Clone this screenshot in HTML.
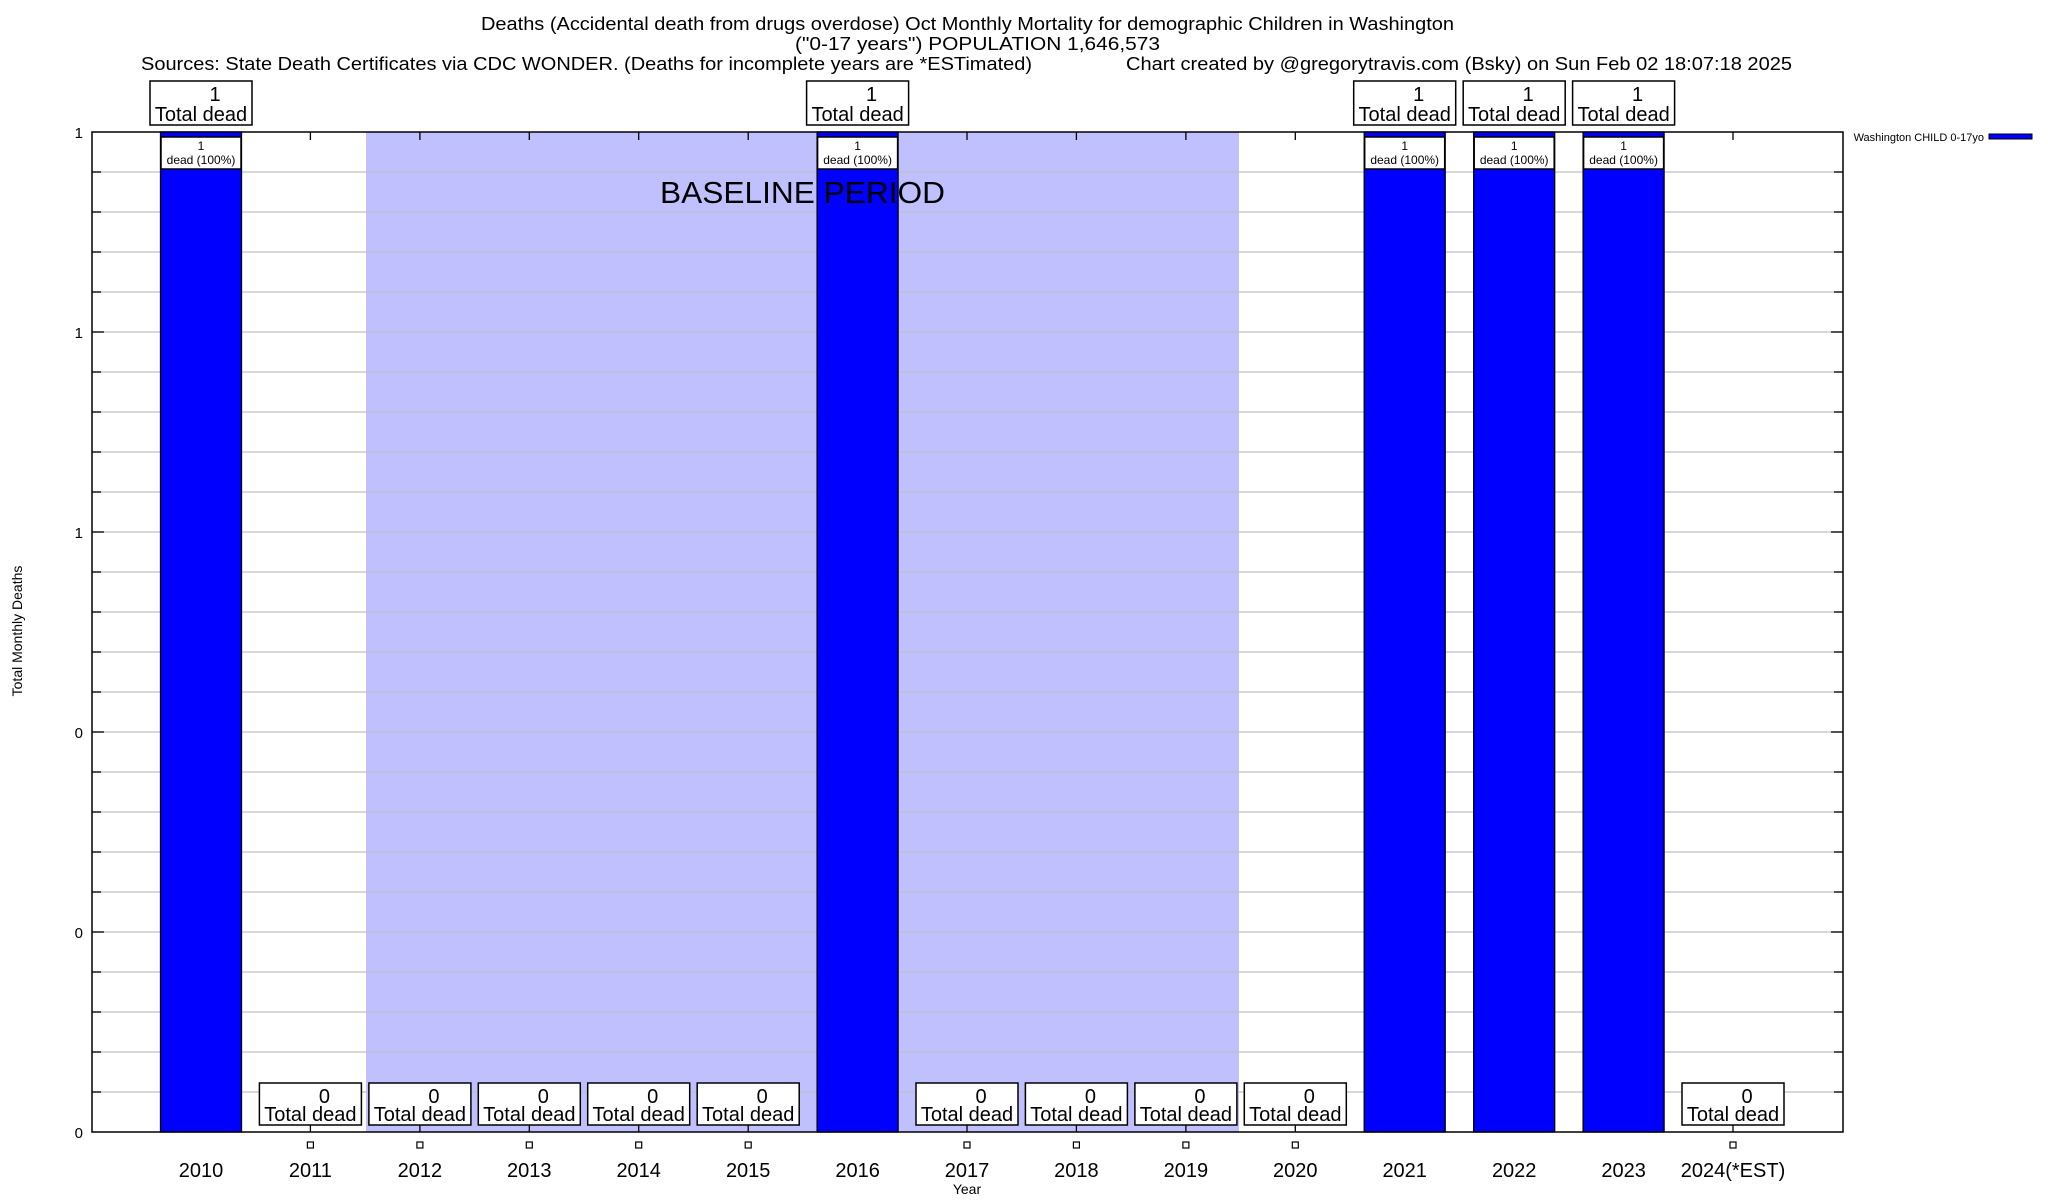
<!DOCTYPE html>
<html><head><meta charset="utf-8"><style>
html,body{margin:0;padding:0;background:#fff;}
svg{display:block;font-family:"Liberation Sans",Arial,sans-serif;}
</style></head><body>
<svg width="2048" height="1200" viewBox="0 0 2048 1200" xmlns="http://www.w3.org/2000/svg">
<rect width="2048" height="1200" fill="#fff"/>
<g font-size="18" fill="#000">
<text x="481" y="30" textLength="973" lengthAdjust="spacingAndGlyphs">Deaths (Accidental death from drugs overdose) Oct Monthly Mortality for demographic Children in Washington</text>
<text x="795" y="50" textLength="365" lengthAdjust="spacingAndGlyphs">("0-17 years") POPULATION 1,646,573</text>
<text x="141" y="70" textLength="891" lengthAdjust="spacingAndGlyphs">Sources: State Death Certificates via CDC WONDER. (Deaths for incomplete years are *ESTimated)</text>
<text x="1126" y="70" textLength="666" lengthAdjust="spacingAndGlyphs">Chart created by @gregorytravis.com (Bsky) on Sun Feb 02 18:07:18 2025</text>
</g>
<rect x="366" y="132" width="873" height="1000" fill="#c0c0ff"/>
<g stroke="#c0c0c0" stroke-width="1.3">
<line x1="92" x2="1843" y1="172" y2="172"/><line x1="92" x2="1843" y1="212" y2="212"/><line x1="92" x2="1843" y1="252" y2="252"/><line x1="92" x2="1843" y1="292" y2="292"/><line x1="92" x2="1843" y1="332" y2="332"/>
<line x1="92" x2="1843" y1="372" y2="372"/><line x1="92" x2="1843" y1="412" y2="412"/><line x1="92" x2="1843" y1="452" y2="452"/><line x1="92" x2="1843" y1="492" y2="492"/><line x1="92" x2="1843" y1="532" y2="532"/>
<line x1="92" x2="1843" y1="572" y2="572"/><line x1="92" x2="1843" y1="612" y2="612"/><line x1="92" x2="1843" y1="652" y2="652"/><line x1="92" x2="1843" y1="692" y2="692"/><line x1="92" x2="1843" y1="732" y2="732"/>
<line x1="92" x2="1843" y1="772" y2="772"/><line x1="92" x2="1843" y1="812" y2="812"/><line x1="92" x2="1843" y1="852" y2="852"/><line x1="92" x2="1843" y1="892" y2="892"/><line x1="92" x2="1843" y1="932" y2="932"/>
<line x1="92" x2="1843" y1="972" y2="972"/><line x1="92" x2="1843" y1="1012" y2="1012"/><line x1="92" x2="1843" y1="1052" y2="1052"/><line x1="92" x2="1843" y1="1092" y2="1092"/>
</g>
<g fill="#0000ff" stroke="#000" stroke-width="1.3">
<rect x="160.5" y="132" width="81" height="1000"/>
<rect x="817.1" y="132" width="81" height="1000"/>
<rect x="1364.2" y="132" width="81" height="1000"/>
<rect x="1473.7" y="132" width="81" height="1000"/>
<rect x="1583.1" y="132" width="81" height="1000"/>
</g>
<g fill="#fff" stroke="#000" stroke-width="1.5">
<rect x="161" y="137" width="80" height="32"/>
<rect x="817.6" y="137" width="80" height="32"/>
<rect x="1364.7" y="137" width="80" height="32"/>
<rect x="1474.2" y="137" width="80" height="32"/>
<rect x="1583.6" y="137" width="80" height="32"/>
</g>
<g font-size="12" fill="#000" text-anchor="middle">
<text x="201" y="150">1</text><text x="201" y="164">dead (100%)</text>
<text x="857.6" y="150">1</text><text x="857.6" y="164">dead (100%)</text>
<text x="1404.7" y="150">1</text><text x="1404.7" y="164">dead (100%)</text>
<text x="1514.2" y="150">1</text><text x="1514.2" y="164">dead (100%)</text>
<text x="1623.6" y="150">1</text><text x="1623.6" y="164">dead (100%)</text>
</g>
<text x="660" y="203" font-size="31" fill="#000" textLength="285" lengthAdjust="spacingAndGlyphs">BASELINE PERIOD</text>
<rect x="92" y="132" width="1751" height="1000" fill="none" stroke="#000" stroke-width="1.5"/>
<g stroke="#000" stroke-width="1.3">
<line x1="92" x2="101" y1="172" y2="172"/><line x1="92" x2="101" y1="212" y2="212"/><line x1="92" x2="101" y1="252" y2="252"/><line x1="92" x2="101" y1="292" y2="292"/><line x1="92" x2="104" y1="332" y2="332"/>
<line x1="92" x2="101" y1="372" y2="372"/><line x1="92" x2="101" y1="412" y2="412"/><line x1="92" x2="101" y1="452" y2="452"/><line x1="92" x2="101" y1="492" y2="492"/><line x1="92" x2="104" y1="532" y2="532"/>
<line x1="92" x2="101" y1="572" y2="572"/><line x1="92" x2="101" y1="612" y2="612"/><line x1="92" x2="101" y1="652" y2="652"/><line x1="92" x2="101" y1="692" y2="692"/><line x1="92" x2="104" y1="732" y2="732"/>
<line x1="92" x2="101" y1="772" y2="772"/><line x1="92" x2="101" y1="812" y2="812"/><line x1="92" x2="101" y1="852" y2="852"/><line x1="92" x2="101" y1="892" y2="892"/><line x1="92" x2="104" y1="932" y2="932"/>
<line x1="92" x2="101" y1="972" y2="972"/><line x1="92" x2="101" y1="1012" y2="1012"/><line x1="92" x2="101" y1="1052" y2="1052"/><line x1="92" x2="101" y1="1092" y2="1092"/>
<line x1="1834" x2="1843" y1="172" y2="172"/><line x1="1834" x2="1843" y1="212" y2="212"/><line x1="1834" x2="1843" y1="252" y2="252"/><line x1="1834" x2="1843" y1="292" y2="292"/><line x1="1831" x2="1843" y1="332" y2="332"/>
<line x1="1834" x2="1843" y1="372" y2="372"/><line x1="1834" x2="1843" y1="412" y2="412"/><line x1="1834" x2="1843" y1="452" y2="452"/><line x1="1834" x2="1843" y1="492" y2="492"/><line x1="1831" x2="1843" y1="532" y2="532"/>
<line x1="1834" x2="1843" y1="572" y2="572"/><line x1="1834" x2="1843" y1="612" y2="612"/><line x1="1834" x2="1843" y1="652" y2="652"/><line x1="1834" x2="1843" y1="692" y2="692"/><line x1="1831" x2="1843" y1="732" y2="732"/>
<line x1="1834" x2="1843" y1="772" y2="772"/><line x1="1834" x2="1843" y1="812" y2="812"/><line x1="1834" x2="1843" y1="852" y2="852"/><line x1="1834" x2="1843" y1="892" y2="892"/><line x1="1831" x2="1843" y1="932" y2="932"/>
<line x1="1834" x2="1843" y1="972" y2="972"/><line x1="1834" x2="1843" y1="1012" y2="1012"/><line x1="1834" x2="1843" y1="1052" y2="1052"/><line x1="1834" x2="1843" y1="1092" y2="1092"/>
<line x1="310.4" x2="310.4" y1="132" y2="140"/><line x1="419.9" x2="419.9" y1="132" y2="140"/><line x1="529.3" x2="529.3" y1="132" y2="140"/><line x1="638.7" x2="638.7" y1="132" y2="140"/><line x1="748.2" x2="748.2" y1="132" y2="140"/>
<line x1="967" x2="967" y1="132" y2="140"/><line x1="1076.4" x2="1076.4" y1="132" y2="140"/><line x1="1185.9" x2="1185.9" y1="132" y2="140"/><line x1="1295.3" x2="1295.3" y1="132" y2="140"/><line x1="1733" x2="1733" y1="132" y2="140"/>
<line x1="310.4" x2="310.4" y1="1124" y2="1132"/><line x1="419.9" x2="419.9" y1="1124" y2="1132"/><line x1="529.3" x2="529.3" y1="1124" y2="1132"/><line x1="638.7" x2="638.7" y1="1124" y2="1132"/><line x1="748.2" x2="748.2" y1="1124" y2="1132"/>
<line x1="967" x2="967" y1="1124" y2="1132"/><line x1="1076.4" x2="1076.4" y1="1124" y2="1132"/><line x1="1185.9" x2="1185.9" y1="1124" y2="1132"/><line x1="1295.3" x2="1295.3" y1="1124" y2="1132"/><line x1="1733" x2="1733" y1="1124" y2="1132"/>
</g>
<g font-size="15" fill="#000" text-anchor="end">
<text x="83" y="138">1</text><text x="83" y="338">1</text><text x="83" y="538">1</text>
<text x="83" y="738">0</text><text x="83" y="938">0</text><text x="83" y="1138">0</text>
</g>
<text transform="translate(22,631) rotate(-90)" font-size="14" text-anchor="middle" fill="#000">Total Monthly Deaths</text>
<g fill="#fff" stroke="#000" stroke-width="1.5">
<rect x="150" y="81" width="102" height="44"/>
<rect x="806.6" y="81" width="102" height="44"/>
<rect x="1353.7" y="81" width="102" height="44"/>
<rect x="1463.2" y="81" width="102" height="44"/>
<rect x="1572.6" y="81" width="102" height="44"/>
</g>
<g font-size="20" fill="#000" text-anchor="middle">
<text x="215" y="101">1</text><text x="201" y="121">Total dead</text>
<text x="871.6" y="101">1</text><text x="857.6" y="121">Total dead</text>
<text x="1418.7" y="101">1</text><text x="1404.7" y="121">Total dead</text>
<text x="1528.2" y="101">1</text><text x="1514.2" y="121">Total dead</text>
<text x="1637.6" y="101">1</text><text x="1623.6" y="121">Total dead</text>
</g>
<g fill="#fff" stroke="#000" stroke-width="1.5">
<rect x="259.4" y="1083" width="102" height="42"/>
<rect x="368.9" y="1083" width="102" height="42"/>
<rect x="478.3" y="1083" width="102" height="42"/>
<rect x="587.7" y="1083" width="102" height="42"/>
<rect x="697.2" y="1083" width="102" height="42"/>
<rect x="916" y="1083" width="102" height="42"/>
<rect x="1025.4" y="1083" width="102" height="42"/>
<rect x="1134.9" y="1083" width="102" height="42"/>
<rect x="1244.3" y="1083" width="102" height="42"/>
<rect x="1682" y="1083" width="102" height="42"/>
</g>
<g font-size="20" fill="#000" text-anchor="middle">
<text x="324.4" y="1103">0</text><text x="310.4" y="1121">Total dead</text>
<text x="433.9" y="1103">0</text><text x="419.9" y="1121">Total dead</text>
<text x="543.3" y="1103">0</text><text x="529.3" y="1121">Total dead</text>
<text x="652.7" y="1103">0</text><text x="638.7" y="1121">Total dead</text>
<text x="762.2" y="1103">0</text><text x="748.2" y="1121">Total dead</text>
<text x="981" y="1103">0</text><text x="967" y="1121">Total dead</text>
<text x="1090.4" y="1103">0</text><text x="1076.4" y="1121">Total dead</text>
<text x="1199.9" y="1103">0</text><text x="1185.9" y="1121">Total dead</text>
<text x="1309.3" y="1103">0</text><text x="1295.3" y="1121">Total dead</text>
<text x="1747" y="1103">0</text><text x="1733" y="1121">Total dead</text>
</g>
<g fill="#fff" stroke="#000" stroke-width="1.2">
<rect x="307.4" y="1142" width="6" height="6"/><rect x="416.9" y="1142" width="6" height="6"/><rect x="526.3" y="1142" width="6" height="6"/><rect x="635.7" y="1142" width="6" height="6"/><rect x="745.2" y="1142" width="6" height="6"/>
<rect x="964" y="1142" width="6" height="6"/><rect x="1073.4" y="1142" width="6" height="6"/><rect x="1182.9" y="1142" width="6" height="6"/><rect x="1292.3" y="1142" width="6" height="6"/><rect x="1730" y="1142" width="6" height="6"/>
</g>
<g font-size="20" fill="#000" text-anchor="middle">
<text x="201" y="1177">2010</text><text x="310.4" y="1177">2011</text><text x="419.9" y="1177">2012</text><text x="529.3" y="1177">2013</text><text x="638.7" y="1177">2014</text>
<text x="748.2" y="1177">2015</text><text x="857.6" y="1177">2016</text><text x="967" y="1177">2017</text><text x="1076.4" y="1177">2018</text><text x="1185.9" y="1177">2019</text>
<text x="1295.3" y="1177">2020</text><text x="1404.7" y="1177">2021</text><text x="1514.2" y="1177">2022</text><text x="1623.6" y="1177">2023</text><text x="1733" y="1177">2024(*EST)</text>
</g>
<text x="967" y="1194" font-size="14" text-anchor="middle" fill="#000">Year</text>
<text x="1984" y="141" font-size="11" text-anchor="end" fill="#000">Washington CHILD 0-17yo</text>
<rect x="1989" y="134" width="43" height="5" fill="#0000ff" stroke="#000" stroke-width="1"/>
</svg>
</body></html>
